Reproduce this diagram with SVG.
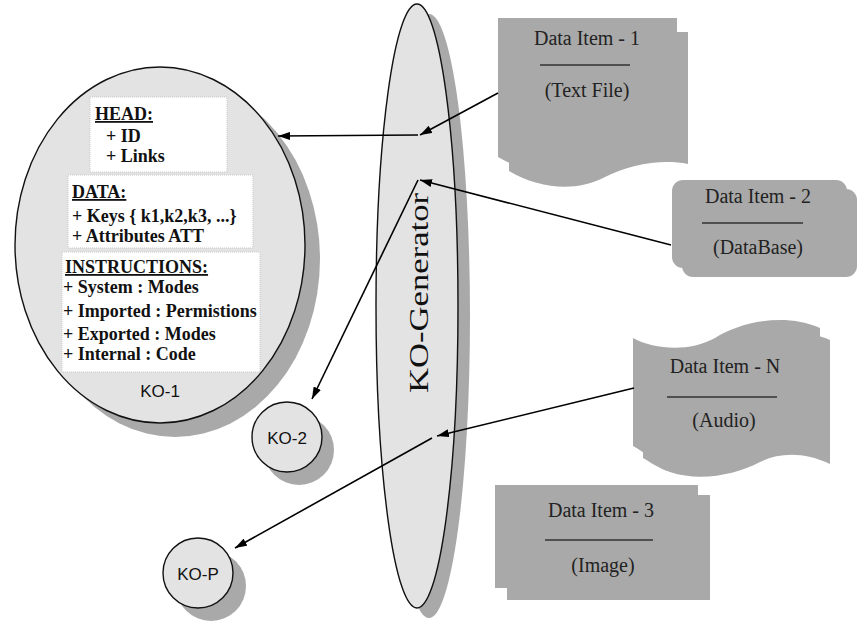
<svg xmlns="http://www.w3.org/2000/svg" width="858" height="623" viewBox="0 0 858 623">
  <defs>
    <marker id="arrow" markerWidth="12" markerHeight="8" refX="12" refY="4" orient="auto" markerUnits="userSpaceOnUse">
      <path d="M0,0 L12,4 L0,8 Z" fill="#000"/>
    </marker>
  </defs>
  <style>
    .shadow { fill: #a9a9a9; stroke: none; }
    .light { fill: #e3e3e3; stroke: #111; stroke-width: 1.4; }
    .item { fill: #a9a9a9; stroke: none; }
    .panel { fill: #ffffff; stroke: #c8c8c8; stroke-width: 1; stroke-dasharray: 1 1; }
    .serif { font-family: "Liberation Serif", "Times New Roman", serif; fill: #111; }
    .ko { font-family: "Liberation Sans", Arial, sans-serif; font-size: 17px; fill: #111; text-anchor: middle; }
    .body { font-size: 18px; font-weight: bold; }
    .hd { font-size: 18px; font-weight: bold; text-decoration: underline; }
    .dt { font-size: 20px; text-anchor: middle; fill: #222; }
    .sep { stroke: #333; stroke-width: 1.5; }
    .conn { fill: none; stroke: #000; stroke-width: 1.6; }
  </style>

  <rect width="858" height="623" fill="#ffffff"/>

  <!-- KO-1 object -->
  <g id="ko1">
    <ellipse class="shadow" cx="175" cy="259" rx="145" ry="178"/>
    <ellipse class="light" cx="160" cy="245" rx="145" ry="178"/>
    <rect class="panel" x="90" y="97" width="137" height="75"/>
    <rect class="panel" x="68" y="175" width="185" height="73"/>
    <rect class="panel" x="62" y="252" width="198" height="120"/>
    <g class="serif">
      <text class="hd" x="95" y="120">HEAD:</text>
      <text class="body" x="106" y="142">+ ID</text>
      <text class="body" x="106" y="162">+ Links</text>
      <text class="hd" x="72" y="198">DATA:</text>
      <text class="body" x="72" y="222">+ Keys { k1,k2,k3, ...}</text>
      <text class="body" x="72" y="242">+ Attributes ATT</text>
      <text class="hd" x="65" y="273">INSTRUCTIONS:</text>
      <text class="body" x="63" y="293">+ System : Modes</text>
      <text class="body" x="63" y="317">+ Imported : Permistions</text>
      <text class="body" x="63" y="340">+ Exported : Modes</text>
      <text class="body" x="63" y="360">+ Internal : Code</text>
    </g>
    <text class="ko" x="160" y="397">KO-1</text>
  </g>

  <!-- KO-2 object -->
  <g id="ko2">
    <circle class="shadow" cx="299" cy="450" r="35"/>
    <circle class="light" cx="287" cy="437" r="35"/>
    <text class="ko" x="287" y="444">KO-2</text>
  </g>

  <!-- KO-P object -->
  <g id="kop">
    <circle class="shadow" cx="211" cy="586" r="35"/>
    <circle class="light" cx="198" cy="573" r="35"/>
    <text class="ko" x="198" y="580">KO-P</text>
  </g>

  <!-- KO generator -->
  <g id="generator">
    <ellipse class="shadow" cx="429" cy="316" rx="41" ry="302"/>
    <ellipse class="light" cx="417" cy="306" rx="41" ry="302"/>
    <text class="serif" transform="translate(428,293) rotate(-90)" font-size="28" text-anchor="middle" textLength="200" lengthAdjust="spacingAndGlyphs">KO-Generator</text>
  </g>

  <!-- Data item 1: document shape -->
  <g id="data-item-1">
    <path class="item" transform="translate(11,14)" d="M498,18 H677 V150 C650,145 620,150 592,164 C566,177 530,176 498,157 Z"/>
    <path class="item" d="M498,18 H677 V150 C650,145 620,150 592,164 C566,177 530,176 498,157 Z"/>
    <text class="serif dt" x="587" y="45">Data Item - 1</text>
    <line class="sep" x1="540" y1="65" x2="630" y2="65"/>
    <text class="serif dt" x="587" y="97">(Text File)</text>
  </g>

  <!-- Data item 2: rounded panel -->
  <g id="data-item-2">
    <rect class="item" x="682" y="189" width="175" height="88" rx="11"/>
    <rect class="item" x="672" y="180" width="175" height="88" rx="11"/>
    <text class="serif dt" x="758" y="203">Data Item - 2</text>
    <line class="sep" x1="702" y1="223" x2="803" y2="223"/>
    <text class="serif dt" x="758" y="254">(DataBase)</text>
  </g>

  <!-- Data item N: tape shape -->
  <g id="data-item-n">
    <path class="item" transform="translate(10,12)" d="M633,338 C655,350 690,352 715,338 C740,322 785,312 820,328 V452 C795,440 770,440 750,450 C725,463 690,470 660,460 C648,456 640,450 633,446 Z"/>
    <path class="item" d="M633,338 C655,350 690,352 715,338 C740,322 785,312 820,328 V452 C795,440 770,440 750,450 C725,463 690,470 660,460 C648,456 640,450 633,446 Z"/>
    <text class="serif dt" x="725" y="373">Data Item - N</text>
    <line class="sep" x1="667" y1="397" x2="777" y2="397"/>
    <text class="serif dt" x="724" y="427">(Audio)</text>
  </g>

  <!-- Data item 3: plain card -->
  <g id="data-item-3">
    <rect class="item" x="507" y="495" width="203" height="105"/>
    <rect class="item" x="495" y="485" width="203" height="103"/>
    <text class="serif dt" x="601" y="517">Data Item - 3</text>
    <line class="sep" x1="545" y1="540" x2="653" y2="540"/>
    <text class="serif dt" x="603" y="572">(Image)</text>
  </g>

  <!-- connectors -->
  <g id="connectors">
    <line class="conn" x1="498" y1="93" x2="420" y2="135" marker-end="url(#arrow)"/>
    <line class="conn" x1="418" y1="135" x2="278" y2="136" marker-end="url(#arrow)"/>
    <line class="conn" x1="671" y1="245" x2="420" y2="180" marker-end="url(#arrow)"/>
    <line class="conn" x1="418" y1="180" x2="312" y2="399" marker-end="url(#arrow)"/>
    <line class="conn" x1="634" y1="388" x2="437" y2="436" marker-end="url(#arrow)"/>
    <line class="conn" x1="432" y1="438" x2="235" y2="548" marker-end="url(#arrow)"/>
  </g>
</svg>
